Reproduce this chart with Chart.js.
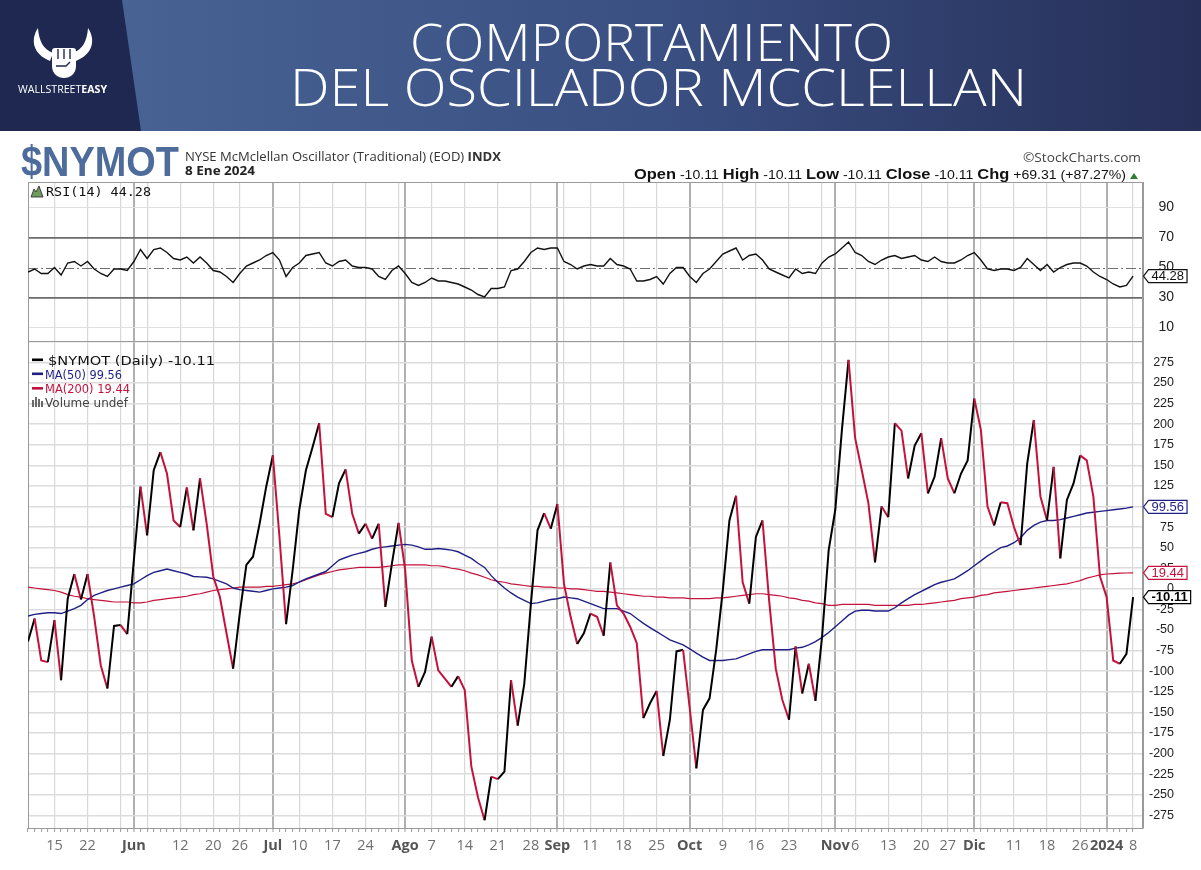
<!DOCTYPE html>
<html>
<head>
<meta charset="utf-8">
<title>Comportamiento del Oscilador McClellan</title>
<script src="https://cdn.jsdelivr.net/npm/chart.js@4.4.1/dist/chart.umd.min.js"></script>
<style>
  html, body { margin: 0; padding: 0; background: #fff; }
  #page { position: relative; width: 1201px; height: 870px; overflow: hidden; background: #fff; }
  #rsiBox { position: absolute; left: 0; top: 166px; width: 1201px; height: 191px; }
  #mainBox { position: absolute; left: 0; top: 325px; width: 1201px; height: 545px; }
  #overlay { position: absolute; left: 0; top: 0; pointer-events: none; }
</style>
</head>
<body>
<div id="page">
  <div id="rsiBox"><canvas id="rsiChart" width="1201" height="191"></canvas></div>
  <div id="mainBox"><canvas id="mainChart" width="1201" height="545"></canvas></div>

  <svg id="overlay" width="1201" height="870" xmlns="http://www.w3.org/2000/svg">
    <defs>
      <linearGradient id="band" x1="0" y1="0" x2="1" y2="0">
        <stop offset="0" stop-color="#4a6797"/>
        <stop offset="0.55" stop-color="#3a4f82"/>
        <stop offset="1" stop-color="#262f58"/>
      </linearGradient>
    </defs>
    <!-- banner -->
    <rect x="0" y="0" width="1201" height="131" fill="url(#band)"/>
    <polygon points="0,0 122,0 141,131 0,131" fill="#1e2850"/>
    <g fill="#fff">
      <path d="M38,28 C30,40 33,54 50,61 L53,53 C43,49 39,41 38,28 Z"/>
      <path d="M88,28 C96,40 93,54 76,61 L73,53 C83,49 87,41 88,28 Z"/>
      <rect x="52" y="48" width="24" height="14" rx="3"/>
      <path d="M52,59 L76,59 L76,66 C76,74 70,78 64,78 C58,78 52,74 52,66 Z"/>
    </g>
    <g stroke="#1e2850" stroke-width="1.4" fill="none">
      <line x1="58" y1="49" x2="58" y2="59"/>
      <line x1="64" y1="49" x2="64" y2="59"/>
      <line x1="70" y1="49" x2="70" y2="59"/>
      <path d="M56,66 L66,66 L70,62"/>
    </g>
    <text x="18" y="93" font-family="'Open Sans', sans-serif" font-size="10" fill="#fff"
          textLength="89" lengthAdjust="spacingAndGlyphs">WALLSTREET<tspan font-weight="bold">EASY</tspan></text>
    <text x="410" y="61" font-family="'Open Sans', Lato, sans-serif" font-weight="300" font-size="52" fill="#fff"
          textLength="483" lengthAdjust="spacingAndGlyphs">COMPORTAMIENTO</text>
    <text x="290" y="106" font-family="'Open Sans', Lato, sans-serif" font-weight="300" font-size="52" fill="#fff"
          textLength="737" lengthAdjust="spacingAndGlyphs">DEL OSCILADOR MCCLELLAN</text>

    <!-- StockCharts header -->
    <text x="21" y="176" font-family="'Liberation Sans', Arial, sans-serif" font-weight="bold" font-size="42"
          fill="#4d6c9c" textLength="158" lengthAdjust="spacingAndGlyphs">$NYMOT</text>
    <text x="185" y="161" font-family="'Open Sans', sans-serif" font-size="12.5" fill="#333"
          textLength="316" lengthAdjust="spacingAndGlyphs">NYSE McMclellan Oscillator (Traditional) (EOD) <tspan font-weight="bold">INDX</tspan></text>
    <text x="185" y="175" font-family="'Open Sans', sans-serif" font-weight="bold" font-size="12.5" fill="#222"
          textLength="70" lengthAdjust="spacingAndGlyphs">8 Ene 2024</text>
    <text x="1023" y="162" font-family="'Open Sans', sans-serif" font-size="12" fill="#444"
          textLength="118" lengthAdjust="spacingAndGlyphs">©StockCharts.com</text>
    <text id="ohlc" x="634" y="179" font-family="'Liberation Sans', Arial, sans-serif" font-size="12" fill="#111"
          textLength="492" lengthAdjust="spacingAndGlyphs"></text>
    <polygon points="1130,179 1138,179 1134,173" fill="#2e7d32"/>

    <!-- RSI label -->
    <polygon points="31,197 34,189 36,192 39,186 43,197" fill="#6f9a60" stroke="#222" stroke-width="0.8"/>
    <text id="rsiLabel" x="46" y="196" font-family="'DejaVu Sans Mono', monospace" font-size="13" fill="#111"
          textLength="105" lengthAdjust="spacingAndGlyphs"></text>

    <!-- main legend -->
    <rect x="32" y="358.5" width="11" height="2.6" fill="#000"/>
    <text id="lgOsc" x="48" y="364.5" font-family="'DejaVu Sans', sans-serif" font-size="12.5" fill="#111"
          textLength="167" lengthAdjust="spacingAndGlyphs"></text>
    <rect x="32" y="372.5" width="11" height="2.6" fill="#1f1f86"/>
    <text id="lgMa50" x="45" y="378.5" font-family="'DejaVu Sans', sans-serif" font-size="12.5" fill="#1f1f86"
          textLength="77" lengthAdjust="spacingAndGlyphs"></text>
    <rect x="32" y="387" width="11" height="2.6" fill="#c4123d"/>
    <text id="lgMa200" x="45" y="393" font-family="'DejaVu Sans', sans-serif" font-size="12.5" fill="#c4123d"
          textLength="85" lengthAdjust="spacingAndGlyphs"></text>
    <g fill="#6a6a6a">
      <rect x="32" y="400" width="2" height="7"/>
      <rect x="35" y="397" width="2" height="10"/>
      <rect x="38" y="399" width="2" height="8"/>
      <rect x="41" y="401" width="2" height="6"/>
    </g>
    <text x="45" y="407" font-family="'DejaVu Sans', sans-serif" font-size="12.5" fill="#444"
          textLength="83" lengthAdjust="spacingAndGlyphs">Volume undef</text>
  </svg>
</div>

<script>
// trading day index 0 = 9 May 2023 ... 167 = 8 Jan 2024
const oscillator = [
  -64, -36, -87, -89, -38, -111, -12, 18, -13, 18,
  -34, -93, -121, -45, -44, -55, 35, 124, 65, 144,
  166, 140, 83, 75, 123, 71, 134, 79, 15, -10,
  -54, -97, -30, 29, 39, 79, 124, 162, 63, -43,
  23, 96, 144, 172, 201, 91, 87, 128, 145, 91,
  67, 79, 61, 79, -22, 31, 80, 23, -87, -119,
  -101, -58, -99, -109, -119, -106, -123, -216, -253, -281,
  -228, -231, -222, -111, -166, -115, -18, 71, 92, 73,
  103, 6, -34, -67, -54, -30, -34, -57, 32, -20,
  -30, -46, -66, -157, -139, -124, -203, -159, -76, -74,
  -145, -218, -147, -133, -74, -2, 83, 113, 8, -18,
  63, 83, -14, -97, -135, -159, -70, -127, -91, -136,
  -58, 47, 96, 193, 278, 183, 144, 104, 32, 100,
  87, 201, 192, 134, 174, 189, 116, 136, 183, 134,
  116, 140, 156, 231, 193, 100, 77, 105, 104, 75,
  53, 152, 205, 112, 83, 148, 37, 108, 128, 162,
  156, 112, 15, -10, -87, -91, -79, -10.11
];

const ma50 = [
  -33, -31, -30, -29, -29, -30, -27, -24, -20, -13,
  -8, -5, -2, 0, 2, 4, 6, 11, 16, 20,
  22, 24, 22, 20, 18, 15, 14.5, 14, 12, 9,
  6, 1, -1, -2, -3, -4, -2, 0, 1, 2,
  4, 8.5, 12, 15, 18, 21, 28, 35, 38, 41,
  43, 45, 48, 50, 51, 52, 53, 54, 53, 51,
  48, 48, 49, 48, 47, 45, 41, 37, 31, 26,
  16, 8, 1, -5, -10, -14, -18, -17, -15, -13,
  -12, -10, -11, -12, -15, -18, -21, -24, -24, -24,
  -27, -30, -36, -42, -47, -52, -57, -62, -65, -68,
  -73, -78, -83, -87, -87, -87, -86, -85, -82, -79,
  -76, -74, -74, -74, -74, -74, -72, -71, -68, -64,
  -59, -53, -46, -39, -32, -27, -26, -26, -27, -27,
  -27, -23, -17, -12, -7, -3, 1, 5, 8, 10,
  12, 17, 22, 28, 34, 40, 45, 50, 52, 56,
  62, 71, 77, 81, 83, 83, 84, 86, 88, 90,
  92, 93, 94, 95, 96, 97, 98, 99.56
];

const ma200 = [
  2, 1, 0, -1, -2, -4, -7, -9, -10, -12,
  -13, -14, -15, -16, -16, -16, -17, -17, -16, -14,
  -13, -12, -11, -10, -9, -7, -6, -4, -2, -1,
  0, 1, 2, 2, 2, 2, 3, 3, 4, 5,
  6, 8, 11, 14, 17, 19, 21, 23, 24, 25,
  26, 26, 26, 26, 27, 28, 29, 29, 29, 29,
  29, 28, 28, 27, 25, 24, 22, 19, 17, 14,
  11, 9, 8, 6, 5, 4, 3, 3, 2, 2,
  1, 1, 0, 0, -1, -2, -3, -3, -4, -5,
  -6, -7, -8, -9, -9, -10, -10, -11, -11, -11,
  -12, -12, -12, -12, -11, -11, -10, -9, -8, -7,
  -6, -6, -7, -8, -9, -11, -12, -14, -15, -17,
  -18, -20, -20, -19, -19, -19, -19, -19, -20, -20,
  -20, -20, -20, -20, -19, -19, -18, -17, -16, -15,
  -14, -12, -11, -10, -8, -7, -5, -4, -3, -2,
  -1, 0, 1, 2, 3, 4, 5, 6, 8, 10,
  13, 15, 17, 18, 18.5, 19, 19.2, 19.44
];

const rsi = [
  47, 49, 46, 46, 50, 45, 53, 54, 51, 54,
  49, 46, 44, 49, 49, 48, 54, 62, 56, 62,
  63, 60, 56, 55, 57, 53, 57, 53, 48, 47,
  44, 40, 46, 51, 53, 55, 58, 60, 55, 44,
  50, 53, 58, 59, 60, 53, 51, 54, 55, 51,
  50, 50, 49, 44, 42, 48, 51, 46, 40, 38,
  40, 43, 41, 41, 40, 39, 37, 35, 32, 30.4,
  36, 36, 37, 48, 49, 54, 60, 63, 62, 63,
  63, 54, 52, 49, 51, 52, 51, 51, 56, 52,
  51, 49, 41, 41, 42, 44, 39, 46, 50, 50,
  44, 40, 46, 49, 54, 59, 61, 63, 55, 58,
  59, 55, 49, 47, 45, 43, 49, 46, 47, 46,
  53, 57, 59, 63, 67, 60, 58, 54, 52, 55,
  57, 58, 56, 57, 58, 55, 54, 57, 54, 53,
  53, 55, 58, 60, 55, 49, 48, 49, 49, 48,
  50, 56, 52, 48, 52, 47, 50, 52, 53, 53,
  51, 47, 44, 42, 39, 37, 38, 44.28
];

// x axis: first trading day of each month / week, labelled days
const monthIdx = [16, 37, 57, 80, 100, 122, 143, 163];
const weekIdx = [4, 9, 14, 18, 23, 28, 32, 37, 41, 46, 51, 56, 61, 66, 71, 76, 81, 85, 90, 95,
                 100, 105, 110, 115, 120, 125, 130, 135, 139, 144, 149, 154, 159, 163, 167];
const tickIdx = [4, 9, 16, 23, 28, 32, 37, 41, 46, 51, 57, 61, 66, 71, 76, 80, 85, 90, 95, 100,
                 105, 110, 115, 122, 125, 130, 135, 139, 143, 149, 154, 159, 163, 167];
const tickLbl = ['15', '22', 'Jun', '12', '20', '26', 'Jul', '10', '17', '24', 'Ago', '7', '14', '21', '28', 'Sep', '11', '18', '25', 'Oct',
                 '9', '16', '23', 'Nov', '6', '13', '20', '27', 'Dic', '11', '18', '26', '2024', '8'];

// y axes
const mainTicks = [-275, -250, -225, -200, -175, -150, -125, -100, -75, -50, -25, 0,
                   25, 50, 75, 100, 125, 150, 175, 200, 225, 250, 275, 300];
const rsiGrid = [10, 20, 30, 40, 50, 60, 70, 80, 90, 100];
const rsiLabels = [10, 30, 50, 70, 90];

const CRIMSON = '#c4123d';
const NAVY = '#1f1f86';

const last = a => a[a.length - 1];
const xy = a => a.map((v, i) => ({ x: i, y: v }));
const fmt = v => v.toFixed(2);
const tickVal = c => (c && c.tick) ? c.tick.value : null;
const isMonth = c => monthIdx.includes(tickVal(c));

// header texts
document.getElementById('ohlc').innerHTML =
  '<tspan font-weight="bold" font-size="14">Open</tspan> ' + fmt(last(oscillator)) +
  '  <tspan font-weight="bold" font-size="14">High</tspan> ' + fmt(last(oscillator)) +
  '  <tspan font-weight="bold" font-size="14">Low</tspan> ' + fmt(last(oscillator)) +
  '  <tspan font-weight="bold" font-size="14">Close</tspan> ' + fmt(last(oscillator)) +
  '  <tspan font-weight="bold" font-size="14">Chg</tspan> +69.31 (+87.27%)';
document.getElementById('rsiLabel').textContent = 'RSI(14) ' + fmt(last(rsi));
document.getElementById('lgOsc').textContent = '$NYMOT (Daily) ' + fmt(last(oscillator));
document.getElementById('lgMa50').textContent = 'MA(50) ' + fmt(last(ma50));
document.getElementById('lgMa200').textContent = 'MA(200) ' + fmt(last(ma200));

function timeAxis(withLabels) {
  return {
    type: 'linear',
    min: 0,
    max: 168.5,
    afterBuildTicks: s => { s.ticks = oscillator.map((_, i) => ({ value: i })); },
    afterFit: s => { s.height = withLabels ? 42 : 0; },
    border: { display: false },
    grid: {
      color: c => isMonth(c) ? '#b0b0b0' : weekIdx.includes(tickVal(c)) ? '#d8d8d8' : 'rgba(0,0,0,0)',
      lineWidth: c => isMonth(c) ? 2 : 1.2,
      drawTicks: withLabels,
      tickLength: 4,
      tickColor: '#9a9a9a',
      tickWidth: 1
    },
    ticks: withLabels ? {
      autoSkip: false,
      maxRotation: 0,
      minRotation: 0,
      padding: 5,
      callback: v => { const k = tickIdx.indexOf(v); return k < 0 ? '' : tickLbl[k]; },
      color: c => isMonth(c) ? '#555' : '#707070',
      font: c => ({ family: "'Open Sans', sans-serif", size: 14.5, weight: isMonth(c) ? 'bold' : 'normal' })
    } : { display: false }
  };
}

// value tag boxes at the right axis
function tagPlugin(items) {
  return {
    id: 'tags',
    afterDraw(chart) {
      const { ctx, chartArea, scales } = chart;
      items.forEach(t => {
        const y = scales.y.getPixelForValue(t.value);
        ctx.save();
        ctx.font = (t.bold ? 'bold ' : '') + "13px 'Liberation Sans', Arial";
        const w = ctx.measureText(t.text).width + 6;
        const x0 = chartArea.right + 0.5, x1 = x0 + 5, h = 13;
        ctx.beginPath();
        ctx.moveTo(x0, y);
        ctx.lineTo(x1, y - h / 2);
        ctx.lineTo(x1 + w, y - h / 2);
        ctx.lineTo(x1 + w, y + h / 2);
        ctx.lineTo(x1, y + h / 2);
        ctx.closePath();
        ctx.fillStyle = '#fff';
        ctx.fill();
        ctx.lineWidth = 1.2;
        ctx.strokeStyle = t.color;
        ctx.stroke();
        ctx.fillStyle = t.color;
        ctx.textBaseline = 'middle';
        ctx.fillText(t.text, x1 + 3, y + 0.5);
        ctx.restore();
      });
    }
  };
}

const framePlugin = {
  id: 'frame',
  beforeDatasetsDraw(chart) {
    const { ctx, chartArea: a } = chart;
    ctx.save();
    ctx.strokeStyle = '#9a9a9a';
    ctx.lineWidth = 1;
    ctx.strokeRect(a.left + 0.5, a.top + 0.5, a.width - 1, a.height);
    ctx.restore();
  }
};

const midLinePlugin = {
  id: 'midline',
  beforeDatasetsDraw(chart) {
    const { ctx, chartArea: a, scales } = chart;
    const y = Math.round(scales.y.getPixelForValue(50)) + 0.5;
    ctx.save();
    ctx.strokeStyle = '#707070';
    ctx.lineWidth = 1;
    ctx.setLineDash([10, 3, 2, 3]);
    ctx.beginPath();
    ctx.moveTo(a.left, y);
    ctx.lineTo(a.right, y);
    ctx.stroke();
    ctx.restore();
  }
};

Chart.defaults.font.family = "'Liberation Sans', Arial, sans-serif";

new Chart(document.getElementById('rsiChart'), {
  type: 'line',
  data: {
    datasets: [{ label: 'RSI(14)', data: xy(rsi), borderColor: '#111', borderWidth: 1.4 }]
  },
  options: {
    responsive: false,
    animation: false,
    layout: { padding: { left: 28, right: 27, top: 16, bottom: 16 } },
    elements: { point: { radius: 0 }, line: { tension: 0 } },
    plugins: { legend: { display: false }, tooltip: { enabled: false } },
    scales: {
      x: timeAxis(false),
      y: {
        position: 'right',
        min: 1,
        max: 107,
        afterBuildTicks: s => { s.ticks = rsiGrid.map(v => ({ value: v })); },
        afterFit: s => { s.width = 31; },
        border: { display: true, color: '#999', width: 1 },
        grid: {
          drawTicks: false,
          color: c => (tickVal(c) === 70 || tickVal(c) === 30) ? '#6b6b6b' : tickVal(c) === 50 ? 'rgba(0,0,0,0)' : '#e0e0e0',
          lineWidth: c => (tickVal(c) === 70 || tickVal(c) === 30) ? 1.8 : 1
        },
        ticks: {
          padding: 5,
          crossAlign: 'far',
          color: '#222',
          font: { size: 14 },
          callback: v => rsiLabels.includes(v) ? v : ''
        }
      }
    }
  },
  plugins: [framePlugin, midLinePlugin, tagPlugin([{ value: last(rsi), text: fmt(last(rsi)), color: '#111' }])]
});

new Chart(document.getElementById('mainChart'), {
  type: 'line',
  data: {
    datasets: [
      {
        label: '$NYMOT (Daily)',
        data: xy(oscillator),
        borderColor: '#000',
        borderWidth: 2,
        segment: { borderColor: c => c.p1.parsed.y >= c.p0.parsed.y ? '#000000' : CRIMSON }
      },
      { label: 'MA(50)', data: xy(ma50), borderColor: NAVY, borderWidth: 1.4 },
      { label: 'MA(200)', data: xy(ma200), borderColor: CRIMSON, borderWidth: 1.2 }
    ]
  },
  options: {
    responsive: false,
    animation: false,
    layout: { padding: { left: 28, right: 27, top: 16, bottom: 0 } },
    elements: { point: { radius: 0 }, line: { tension: 0 } },
    plugins: { legend: { display: false }, tooltip: { enabled: false } },
    scales: {
      x: timeAxis(true),
      y: {
        position: 'right',
        min: -290.4,
        max: 300.9,
        afterBuildTicks: s => { s.ticks = mainTicks.map(v => ({ value: v })); },
        afterFit: s => { s.width = 31; },
        border: { display: true, color: '#999', width: 1 },
        grid: { color: '#dcdcdc', lineWidth: 1.5, drawTicks: false },
        ticks: {
          padding: 5,
          crossAlign: 'far',
          color: '#222',
          font: { size: 12.5 },
          callback: v => v === 300 ? '' : v
        }
      }
    }
  },
  plugins: [framePlugin, tagPlugin([
    { value: last(ma50), text: fmt(last(ma50)), color: NAVY },
    { value: last(ma200), text: fmt(last(ma200)), color: CRIMSON },
    { value: last(oscillator), text: fmt(last(oscillator)), color: '#000', bold: true }
  ])]
});
</script>
</body>
</html>
